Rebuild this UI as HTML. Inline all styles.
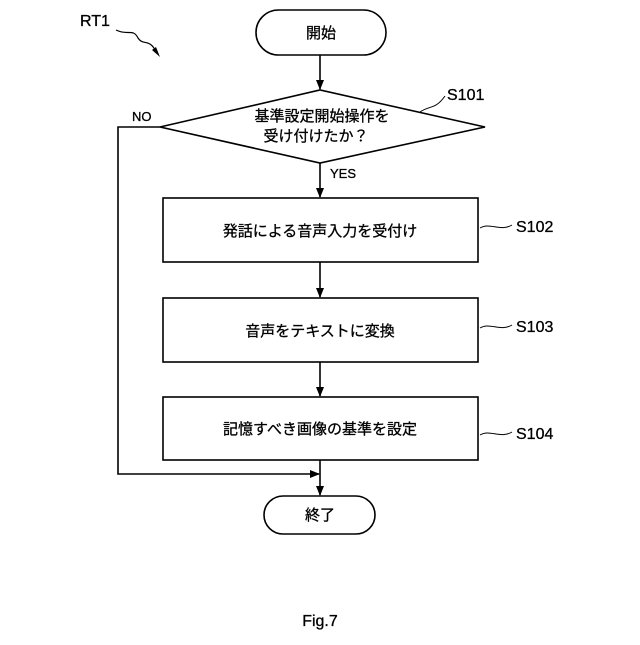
<!DOCTYPE html>
<html><head><meta charset="utf-8"><style>
html,body{margin:0;padding:0;background:#fff}
svg text{font-family:"Liberation Sans","Noto Sans CJK JP",sans-serif;fill:#000}
</style></head><body>
<svg width="640" height="640" viewBox="0 0 640 640" xmlns="http://www.w3.org/2000/svg">
<defs><marker id="a" markerWidth="10" markerHeight="10" refX="9" refY="5" orient="auto" markerUnits="userSpaceOnUse"><path d="M0,1 L10,5 L0,9 z" fill="#000"/></marker></defs>
<g stroke="#000" stroke-width="1.6" fill="none">
<rect x="256" y="10" width="130" height="45" rx="22.5"/>
<polygon points="160,127 320,90 485,127 320,163"/>
<rect x="163" y="198" width="315" height="64"/>
<rect x="163" y="298" width="315" height="64"/>
<rect x="163" y="397" width="315" height="63"/>
<rect x="264" y="496" width="111" height="38" rx="19"/>
<line x1="320" y1="55" x2="320" y2="89" marker-end="url(#a)"/>
<line x1="320" y1="163" x2="320" y2="197" marker-end="url(#a)"/>
<line x1="320" y1="262" x2="320" y2="297" marker-end="url(#a)"/>
<line x1="320" y1="362" x2="320" y2="396" marker-end="url(#a)"/>
<line x1="320" y1="460" x2="320" y2="495" marker-end="url(#a)"/>
<polyline points="160,127 118,127 118,474 319,474" marker-end="url(#a)"/>
<path d="M116,30 C128,36 133,28 138,38 C143,46 150,38 156,52" stroke-width="1.2"/>
<path d="M420,112 C430,105 435,110 445,96" stroke-width="1"/>
<path d="M480,228 C490,222 500,232 512,225" stroke-width="1"/>
<path d="M480,328 C490,322 500,332 512,325" stroke-width="1"/>
<path d="M480,435 C490,429 500,439 512,432" stroke-width="1"/>
</g>
<path d="M152,50 L160,57 L156,47 z" fill="#000"/>
<g stroke="#000" stroke-width="0.3">
<text x="80" y="26" font-size="16">RT1</text>
<text x="321" y="38" font-size="15" text-anchor="middle">開始</text>
<text x="322" y="121" font-size="15" text-anchor="middle">基準設定開始操作を</text>
<text x="316" y="141" font-size="15" text-anchor="middle">受け付けたか？</text>
<text x="132" y="121" font-size="13">NO</text>
<text x="330" y="178" font-size="13">YES</text>
<text x="447" y="100" font-size="16">S101</text>
<text x="320" y="236" font-size="15" text-anchor="middle">発話による音声入力を受付け</text>
<text x="320" y="336" font-size="15" text-anchor="middle">音声をテキストに変換</text>
<text x="320" y="434" font-size="15" text-anchor="middle">記憶すべき画像の基準を設定</text>
<text x="320" y="520" font-size="15" text-anchor="middle">終了</text>
<text x="516" y="232" font-size="16">S102</text>
<text x="516" y="332" font-size="16">S103</text>
<text x="516" y="439" font-size="16">S104</text>
<text x="320" y="626" font-size="16" text-anchor="middle">Fig.7</text>
</g>
</svg>
</body></html>
